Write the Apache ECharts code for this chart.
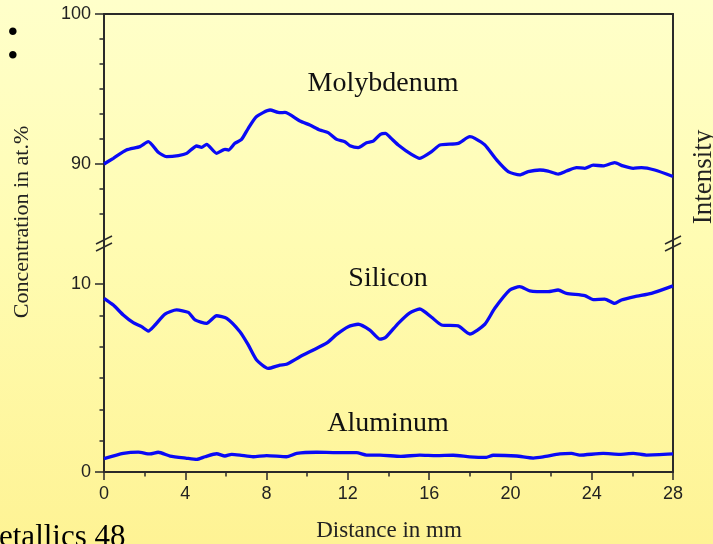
<!DOCTYPE html>
<html>
<head>
<meta charset="utf-8">
<script src="https://cdn.jsdelivr.net/npm/echarts@6/dist/echarts.min.js"></script>
<style>
html,body{margin:0;padding:0;}
body{width:713px;height:544px;overflow:hidden;background:linear-gradient(to bottom,#FFFFCA 0%,#FFFCB2 45%,#FEF394 100%);}
#c{width:713px;height:544px;}
</style>
</head>
<body>
<div id="c"></div>
<script>
// ---- data ----
const moX = [0, 0.46, 1.1, 1.77, 2.18, 2.67, 3.08, 3.66, 4.07, 4.56, 4.8, 5.05, 5.54, 5.95, 6.12, 6.44, 6.77, 7.1, 7.51, 8.17, 8.66, 8.9, 9.64, 10.13, 10.62, 11.03, 11.45, 11.85, 12.1, 12.51, 12.92, 13.25, 13.6, 13.85, 14.1, 14.48, 15.13, 15.54, 16.12, 16.53, 17.43, 18.0, 18.25, 18.74, 19.32, 19.89, 20.46, 20.87, 21.45, 21.85, 22.35, 22.76, 23.25, 23.66, 24.07, 24.56, 25.13, 25.54, 26.04, 26.45, 27.1, 28];
const moY = [90.0, 90.38, 90.93, 91.16, 91.49, 90.78, 90.49, 90.56, 90.71, 91.2, 91.11, 91.31, 90.71, 90.98, 90.93, 91.38, 91.64, 92.38, 93.16, 93.6, 93.42, 93.44, 92.87, 92.6, 92.27, 92.09, 91.64, 91.49, 91.22, 91.09, 91.42, 91.53, 91.98, 92.04, 91.75, 91.27, 90.64, 90.38, 90.82, 91.27, 91.38, 91.82, 91.71, 91.27, 90.27, 89.49, 89.27, 89.49, 89.6, 89.53, 89.33, 89.53, 89.76, 89.71, 89.93, 89.87, 90.09, 89.87, 89.71, 89.76, 89.6, 89.17];

const siX = [0, 0.46, 0.95, 1.44, 1.85, 2.18, 2.51, 3.0, 3.57, 4.15, 4.48, 5.05, 5.54, 6.04, 6.69, 7.1, 7.51, 8.08, 8.66, 8.98, 9.64, 10.3, 10.95, 11.45, 12.02, 12.51, 13.08, 13.58, 13.85, 14.48, 15.05, 15.54, 16.12, 16.61, 17.43, 18.0, 18.74, 19.23, 19.97, 20.46, 20.95, 21.85, 22.35, 22.76, 23.66, 24.07, 24.64, 25.13, 25.46, 26.12, 26.94, 28];
const siY = [9.24, 8.88, 8.35, 7.94, 7.73, 7.5, 7.82, 8.4, 8.62, 8.49, 8.09, 7.91, 8.31, 8.17, 7.46, 6.76, 5.96, 5.51, 5.69, 5.73, 6.13, 6.49, 6.85, 7.32, 7.73, 7.86, 7.55, 7.07, 7.15, 7.91, 8.47, 8.67, 8.23, 7.82, 7.77, 7.34, 7.86, 8.71, 9.68, 9.86, 9.64, 9.59, 9.68, 9.5, 9.38, 9.17, 9.2, 8.97, 9.15, 9.33, 9.5, 9.9];

const alX = [0, 0.95, 1.69, 2.26, 2.67, 3.25, 4.07, 4.56, 4.97, 5.54, 5.95, 6.28, 6.69, 7.34, 8.0, 8.98, 9.48, 10.46, 11.45, 12.43, 12.92, 13.58, 14.6, 15.54, 16.36, 17.18, 18.0, 18.82, 19.15, 20.3, 21.12, 21.61, 22.43, 23.0, 23.41, 24.56, 25.38, 26.04, 26.69, 28];
const alY = [0.71, 0.99, 1.06, 0.96, 1.05, 0.85, 0.73, 0.67, 0.81, 0.97, 0.85, 0.94, 0.9, 0.81, 0.87, 0.81, 0.99, 1.05, 1.03, 1.03, 0.9, 0.9, 0.83, 0.9, 0.87, 0.89, 0.81, 0.78, 0.89, 0.85, 0.74, 0.8, 0.96, 0.99, 0.9, 0.99, 0.94, 0.99, 0.9, 0.96];

const seriesNames = ['Molybdenum', 'Silicon', 'Aluminum'];
const topMajorTicks = [90, 100];
const topMinorTicks = [86.6667, 88.3333, 91.6667, 93.3333, 95, 96.6667, 98.3333];
const botMajorTicks = [0, 10];
const botMinorTicks = [1.6667, 3.3333, 5, 6.6667, 8.3333];
const xTicks = [0, 4, 8, 12, 16, 20, 24, 28];

const pair = (xs, ys) => xs.map((x, i) => [x, ys[i]]);

const AX = '#2a2a2a';
const tickFont = {fontFamily: 'Liberation Sans', fontSize: 18, color: '#222'};

const chart = echarts.init(document.getElementById('c'), null, {renderer: 'canvas'});

const lineAxis = {show: true, lineStyle: {color: AX, width: 2}};
const LINE = {color: '#0a0af5', width: 3.3};

const option = {
  backgroundColor: 'transparent',
  animation: false,
  grid: [
    {left: 104, right: 40, top: 14, height: 225},
    {left: 104, right: 40, top: 252.67, height: 219.33}
  ],
  xAxis: [
    {gridIndex: 0, type: 'value', min: 0, max: 28, position: 'top',
     axisLine: lineAxis, axisTick: {show: false}, axisLabel: {show: false}, splitLine: {show: false}},
    {gridIndex: 1, type: 'value', min: 0, max: 28, interval: 4, position: 'bottom',
     axisLine: lineAxis,
     axisTick: {show: true, length: 8, lineStyle: {color: AX, width: 1.5}, customValues: xTicks},
     minorTick: {show: true, splitNumber: 2, length: 4.5, lineStyle: {color: AX, width: 1.5}},
     axisLabel: Object.assign({margin: 13, customValues: xTicks}, tickFont),
     splitLine: {show: false}, minorSplitLine: {show: false}}
  ],
  yAxis: [
    {gridIndex: 0, type: 'value', min: 85, max: 100, position: 'left',
     axisLine: lineAxis,
     axisTick: {show: true, length: 9, lineStyle: {color: AX, width: 1.5}, customValues: topMajorTicks},
     axisLabel: Object.assign({margin: 13, customValues: topMajorTicks}, tickFont),
     splitLine: {show: false}},
    {gridIndex: 0, type: 'value', min: 85, max: 100, position: 'left',
     axisLine: {show: false},
     axisTick: {show: true, length: 4.5, lineStyle: {color: AX, width: 1.5}, customValues: topMinorTicks},
     axisLabel: {show: false}, splitLine: {show: false}},
    {gridIndex: 0, type: 'value', min: 85, max: 100, position: 'right',
     axisLine: lineAxis, axisTick: {show: false}, axisLabel: {show: false}, splitLine: {show: false}},
    {gridIndex: 1, type: 'value', min: 0, max: 35 / 3, position: 'left',
     axisLine: lineAxis,
     axisTick: {show: true, length: 9, lineStyle: {color: AX, width: 1.5}, customValues: botMajorTicks},
     axisLabel: Object.assign({margin: 13, customValues: botMajorTicks}, tickFont),
     splitLine: {show: false}},
    {gridIndex: 1, type: 'value', min: 0, max: 35 / 3, position: 'left',
     axisLine: {show: false},
     axisTick: {show: true, length: 4.5, lineStyle: {color: AX, width: 1.5}, customValues: botMinorTicks},
     axisLabel: {show: false}, splitLine: {show: false}},
    {gridIndex: 1, type: 'value', min: 0, max: 35 / 3, position: 'right',
     axisLine: lineAxis, axisTick: {show: false}, axisLabel: {show: false}, splitLine: {show: false}}
  ],
  series: [
    {name: seriesNames[0], type: 'line', xAxisIndex: 0, yAxisIndex: 0, data: pair(moX, moY),
     showSymbol: false, smooth: 0.2, lineStyle: LINE},
    {name: seriesNames[1], type: 'line', xAxisIndex: 1, yAxisIndex: 3, data: pair(siX, siY),
     showSymbol: false, smooth: 0.2, lineStyle: LINE},
    {name: seriesNames[2], type: 'line', xAxisIndex: 1, yAxisIndex: 3, data: pair(alX, alY),
     showSymbol: false, smooth: 0.2, lineStyle: LINE}
  ],
  graphic: [
    // axis line through the break gap + break marks
    {type: 'line', shape: {x1: 104, y1: 238, x2: 104, y2: 254}, style: {stroke: AX, lineWidth: 2}},
    {type: 'line', shape: {x1: 673, y1: 238, x2: 673, y2: 254}, style: {stroke: AX, lineWidth: 2}},
    {type: 'line', shape: {x1: 96, y1: 244, x2: 112, y2: 236}, style: {stroke: AX, lineWidth: 1.5}},
    {type: 'line', shape: {x1: 96, y1: 251, x2: 112, y2: 243}, style: {stroke: AX, lineWidth: 1.5}},
    {type: 'line', shape: {x1: 665, y1: 244, x2: 681, y2: 236}, style: {stroke: AX, lineWidth: 1.5}},
    {type: 'line', shape: {x1: 665, y1: 251, x2: 681, y2: 243}, style: {stroke: AX, lineWidth: 1.5}},
    // series labels
    {type: 'text', x: 383, y: 84, style: {text: seriesNames[0], font: '28px "Liberation Serif"', fill: '#111', textAlign: 'center', textVerticalAlign: 'middle'}},
    {type: 'text', x: 388, y: 279, style: {text: seriesNames[1], font: '28px "Liberation Serif"', fill: '#111', textAlign: 'center', textVerticalAlign: 'middle'}},
    {type: 'text', x: 388, y: 424, style: {text: seriesNames[2], font: '28px "Liberation Serif"', fill: '#111', textAlign: 'center', textVerticalAlign: 'middle'}},
    // axis titles
    {type: 'text', x: 22, y: 222, rotation: Math.PI / 2, style: {text: 'Concentration in at.%', font: '22px "Liberation Serif"', fill: '#222', textAlign: 'center', textVerticalAlign: 'middle'}},
    {type: 'text', x: 389, y: 531, style: {text: 'Distance in mm', font: '23px "Liberation Serif"', fill: '#222', textAlign: 'center', textVerticalAlign: 'middle'}},
    {type: 'text', x: 704, y: 177, rotation: Math.PI / 2, style: {text: 'Intensity', font: '27px "Liberation Serif"', fill: '#222', textAlign: 'center', textVerticalAlign: 'middle'}},
    // cropped slide text
    {type: 'text', x: 13, y: 73, style: {text: ':', font: '64px "Liberation Serif"', fill: '#000', textAlign: 'center', textVerticalAlign: 'bottom'}},
    {type: 'text', x: -1, y: 553, style: {text: 'etallics 48', font: '31px "Liberation Serif"', fill: '#000', textAlign: 'left', textVerticalAlign: 'bottom'}}
  ]
};
chart.setOption(option);
</script>
</body>
</html>
